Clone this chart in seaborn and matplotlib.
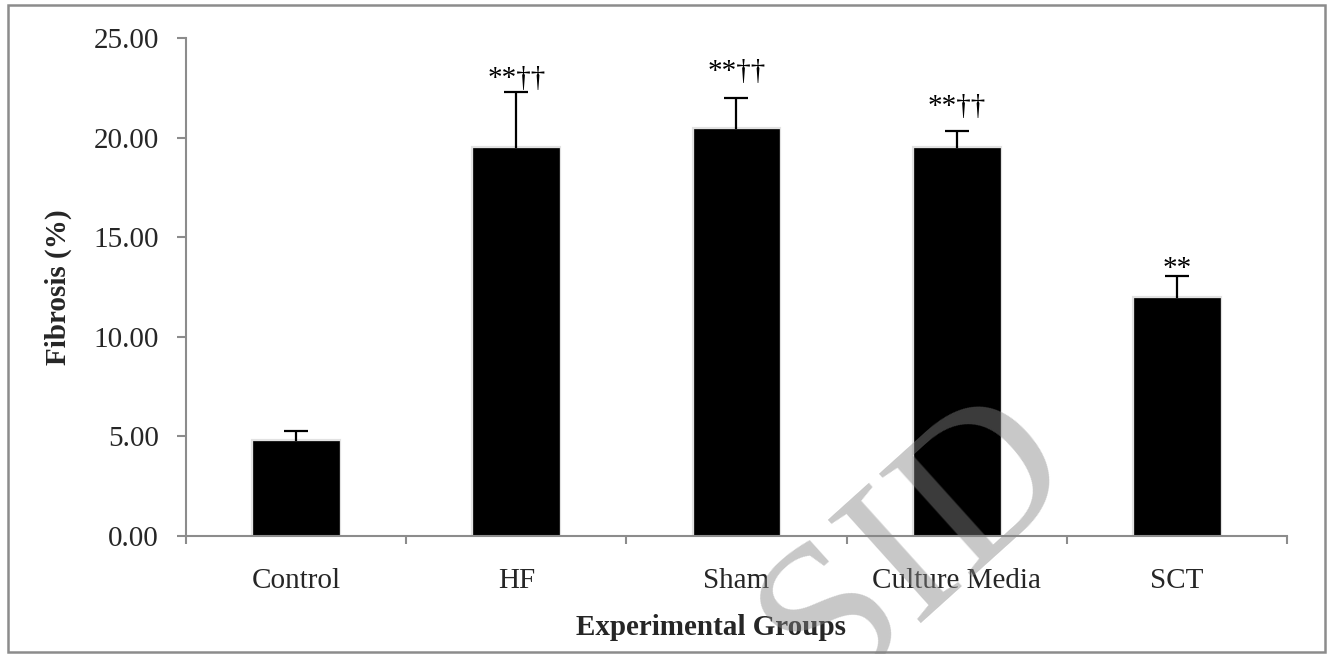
import numpy as np
import pandas as pd
import matplotlib
matplotlib.use("Agg")
import matplotlib.pyplot as plt
import matplotlib.patheffects as pe
from matplotlib.patches import Rectangle
import seaborn as sns

# Fibrosis per experimental group (mean and upper SEM)
groups = ["Control", "HF", "Sham", "Culture Media", "SCT"]
fibrosis_mean = [4.77, 19.48, 20.43, 19.48, 11.95]
fibrosis_sem = [0.50, 2.81, 1.56, 0.85, 1.10]
significance = ["", "**\u2020\u2020", "**\u2020\u2020", "**\u2020\u2020", "**"]
y_ticks = [0, 5, 10, 15, 20, 25]

# vertical nudge (points) of each significance mark above its error bar
mark_nudge = [0, 4.3, 13.7, 12.2, 0]

sns.set_style("white")
plt.rcParams["font.family"] = ["Liberation Serif", "DejaVu Serif"]

df = pd.DataFrame({"group": groups, "fibrosis": fibrosis_mean})

fig = plt.figure(figsize=(13.3, 6.54), dpi=100)
ax = fig.add_axes([0.1398, 0.1804, 0.8279, 0.7615])

sns.barplot(data=df, x="group", y="fibrosis", color="black", width=0.39,
            errorbar=None, saturation=1, edgecolor="black", linewidth=0.5, ax=ax)
for bar in ax.patches:
    bar.set_path_effects([pe.withStroke(linewidth=3, foreground="#e2e2e2")])

xpos = np.arange(len(groups))
_, caps, _ = ax.errorbar(xpos, fibrosis_mean,
                         yerr=[np.zeros(len(groups)), fibrosis_sem],
                         fmt="none", ecolor="black", elinewidth=1.6, capsize=8.5,
                         capthick=1.6, zorder=5)
# only the upper whisker is shown
caps[0].set_visible(False)

for x, m, s, lab, dy in zip(xpos, fibrosis_mean, fibrosis_sem, significance, mark_nudge):
    if lab:
        ax.annotate(lab, xy=(x, m + s), xytext=(0, dy), textcoords="offset points",
                    ha="center", va="baseline", fontsize=21, color="black")

# axes styling
spine_col = "#8c8c8c"
for side in ("top", "right"):
    ax.spines[side].set_visible(False)
for side in ("left", "bottom"):
    ax.spines[side].set_color(spine_col)
    ax.spines[side].set_linewidth(1.5)

ax.set_ylim(0, 25)
ax.set_yticks(y_ticks)
ax.set_yticklabels([f"{v:.2f}" for v in y_ticks])
ax.set_xlim(-0.5, len(groups) - 0.5)
ax.set_xticks(np.arange(-0.5, len(groups), 1.0))
ax.set_xticklabels([""] * (len(groups) + 1))
ax.set_xticks(xpos, minor=True)
ax.set_xticklabels(groups, minor=True)

ax.tick_params(axis="y", which="major", direction="out", length=6.5, width=1.5,
               color=spine_col, labelsize=21, pad=13, left=True)
ax.tick_params(axis="x", which="major", direction="out", length=6, width=1.5,
               color=spine_col, bottom=True)
ax.tick_params(axis="x", which="minor", length=0, labelsize=21, pad=23)

ax.set_ylabel("Fibrosis (%)", fontsize=21, fontweight="bold")
ax.yaxis.set_label_coords(-0.1035, 0.5)
ax.set_xlabel("Experimental Groups", fontsize=21, fontweight="bold")
ax.xaxis.set_label_coords(0.477, -0.156)
ax.xaxis.label.set_va("top")

# outer frame
fig.patches.append(Rectangle((8 / 1330, 2 / 654), 1317 / 1330, 647 / 654,
                             transform=fig.transFigure, fill=False,
                             edgecolor="#8c8c8c", linewidth=1.8, zorder=0))

# watermark
fig.text(918 / 1330, 1 - 545 / 654, "SID", fontsize=152, color="#858585",
         alpha=0.45, rotation=42, rotation_mode="anchor", ha="center",
         va="center", zorder=20)

fig.savefig("out.png", dpi=100)
